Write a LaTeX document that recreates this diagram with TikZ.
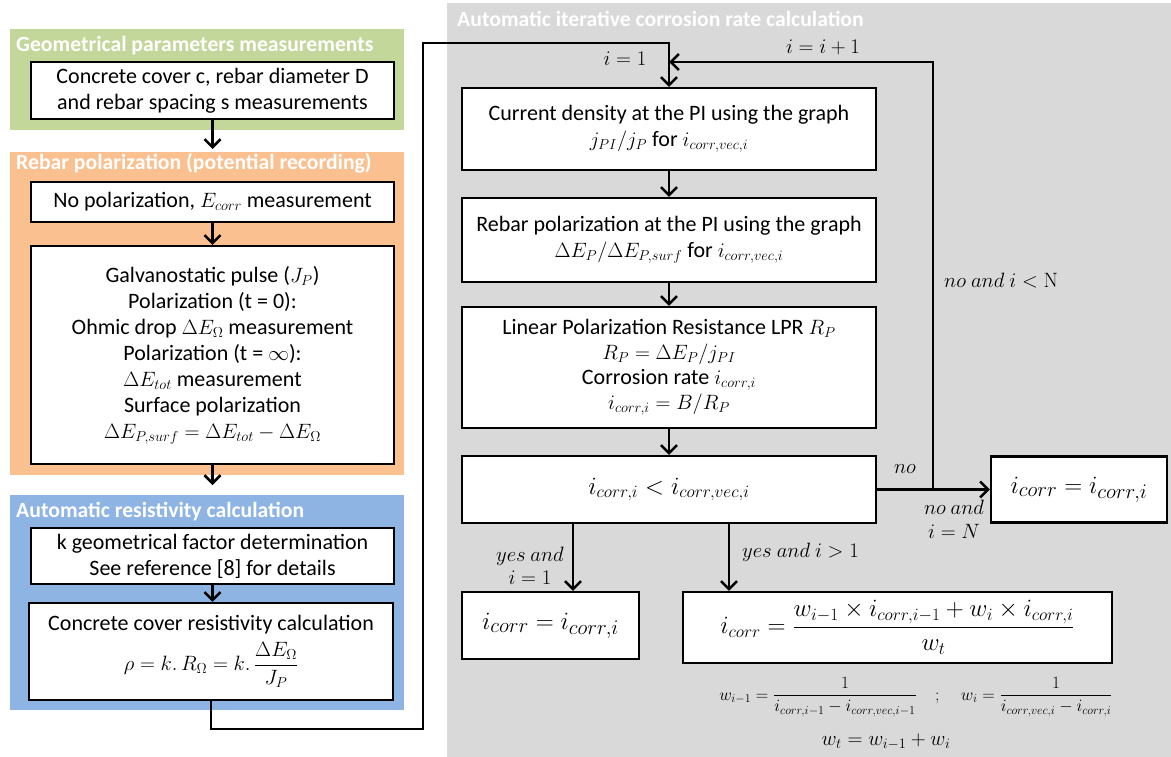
\documentclass[tikz,border=0pt]{standalone}
\usepackage{amsmath}
\usepackage[no-math]{fontspec}
\setmainfont{Carlito}
\usetikzlibrary{arrows.meta}
\definecolor{pgreen}{HTML}{C4D79B}
\definecolor{porange}{HTML}{FAC090}
\definecolor{pblue}{HTML}{8DB4E2}
\definecolor{pgray}{HTML}{D9D9D9}
\begin{document}
\begin{tikzpicture}[x=1pt,y=-1pt,
  box/.style={draw, line width=2.1pt, fill=white, align=center, inner sep=0pt, font=\fontsize{22}{26}\selectfont},
  arr/.style={line width=2.6pt, -{Straight Barb[length=8pt,width=16pt,line width=2.6pt]}},
  ptitle/.style={anchor=west, text=white, font=\bfseries\fontsize{21.7}{25}\selectfont, inner sep=0pt},
  lab/.style={font=\fontsize{22}{25}\selectfont, inner sep=0pt, align=center}]
\useasboundingbox (0,0) rectangle (1171,757);
\fill[white] (0,0) rectangle (1171,757);
% panels
\fill[pgreen] (10,29) rectangle (404,130);
\fill[porange] (10,152) rectangle (404,475);
\fill[pblue] (10,495) rectangle (404,710);
\fill[pgray] (447,3) rectangle (1171,757);
\node[ptitle] (tg) at (16,46) {Geometrical parameters measurements};
\node[ptitle] (to) at (16,163) {Rebar polarization (potential recording)};
\node[ptitle] (tb) at (16,512) {Automatic resistivity calculation};
\node[ptitle] (tr) at (457,19) {Automatic iterative corrosion rate calculation};
% left boxes
\node[box, minimum width=363, minimum height=57] (b1) at (212.5,90.5)
  {Concrete cover c, rebar diameter D\\and rebar spacing s measurements};
\node[box, minimum width=363, minimum height=40] (b2) at (212.5,202)
  {No polarization, $E_{corr}$ measurement};
\node[box, minimum width=363, minimum height=218, font=\fontsize{22}{26}\selectfont] (b3) at (212.5,355)
  {Galvanostatic pulse ($J_P$)\\Polarization (t = 0):\\Ohmic drop $\Delta E_\Omega$ measurement\\Polarization (t = $\infty$):\\$\Delta E_{tot}$ measurement\\Surface polarization\\$\Delta E_{P,surf}=\Delta E_{tot}-\Delta E_\Omega$};
\node[box, minimum width=363, minimum height=56] (b4) at (212.5,556)
  {k geometrical factor determination\\See reference [8] for details};
\node[box, minimum width=364, minimum height=97] (b5) at (211,651.5)
  {Concrete cover resistivity calculation\\[7pt]$\rho=k.\,R_\Omega=k.\,\dfrac{\Delta E_\Omega}{J_P}$};
% right boxes
\node[box, minimum width=414, minimum height=82] (b6) at (669,129)
  {Current density at the PI using the graph\\$j_{PI}/j_P$ for $i_{corr,vec,i}$};
\node[box, minimum width=414, minimum height=84] (b7) at (669,240)
  {Rebar polarization at the PI using the graph\\$\Delta E_P/\Delta E_{P,surf}$ for $i_{corr,vec,i}$};
\node[box, minimum width=414, minimum height=121, font=\fontsize{22}{25}\selectfont] (b8) at (669,367.5)
  {Linear Polarization Resistance LPR $R_P$\\$R_P=\Delta E_P/j_{PI}$\\Corrosion rate $i_{corr,i}$\\$i_{corr,i}=B/R_P$};
\node[box, minimum width=414, minimum height=67, font=\fontsize{24}{27}\selectfont] (b9) at (669,489.5)
  {$i_{corr,i}<i_{corr,vec,i}$};
\node[box, minimum width=176, minimum height=66, font=\fontsize{31}{33}\selectfont] (b10) at (1079,489.5)
  {$i_{corr}=i_{corr,i}$};
\node[box, minimum width=177, minimum height=67, font=\fontsize{31}{33}\selectfont] (b11) at (550.5,625.5)
  {$i_{corr}=i_{corr,i}$};
\node[box, minimum width=429, minimum height=71, font=\fontsize{26}{28}\selectfont] (b12) at (897.5,627.5)
  {$i_{corr}=\dfrac{w_{i-1}\times i_{corr,i-1}+w_i\times i_{corr,i}}{w_t}$};
\node[font=\fontsize{18.5}{21}\selectfont, inner sep=0pt] (wf) at (916,697)
  {$w_{i-1}=\dfrac{1}{i_{corr,i-1}-i_{corr,vec,i-1}}\quad;\quad w_i=\dfrac{1}{i_{corr,vec,i}-i_{corr,i}}$};
\node[font=\fontsize{19.5}{22}\selectfont, inner sep=0pt] (wt) at (886,742) {$w_t=w_{i-1}+w_i$};
% connectors left
\coordinate (c12) at (212.5,149);
\draw[arr] (b1.south) -- (c12);
\draw[arr] (b2.south) -- (b3.north);
\coordinate (c3) at (212.5,485);
\draw[arr] (b3.south) -- (c3);
\draw[arr] (b4.south) -- (b4.south |- b5.north);
\coordinate (lA) at (423,729);
\coordinate (lB) at (423,43);
\draw[arr] (b5.south) |- (lA) -- (lB) -| (b6.north);
% connectors right
\draw[arr] (b6.south) -- (b7.north);
\draw[arr] (b7.south) -- (b8.north);
\draw[arr] (b8.south) -- (b9.north);
\draw[arr] (b9.east) -- (b10.west);
\coordinate (jn) at (933,489.5);
\coordinate (jt) at (933,62);
\draw[arr] (jn) -- (jt) -- (jt -| b6.north);
\path (b9.south) ++(-96,0) coordinate (ya);
\path (b9.south) ++(60,0) coordinate (yb);
\draw[arr] (ya) -- (ya |- b11.north);
\draw[arr] (yb) -- (yb |- b12.north);
% labels
\node[lab] (l1) at (625,59) {$i=1$};
\node[lab] (l2) at (823,47) {$i=i+1$};
\node[lab, anchor=west] (l3) at (944,281) {$no\ and\ i<\mathrm{N}$};
\node[lab] (l4) at (905,469) {$no$};
\node[lab, font=\fontsize{21}{24}\selectfont] (l5) at (954,519) {$no\ and$\\$i=N$};
\node[lab, font=\fontsize{21}{23}\selectfont] (l6) at (530,566) {$yes\ and$\\$i=1$};
\node[lab, anchor=west] (l7) at (742,552) {$yes\ and\ i>1$};
\end{tikzpicture}
\end{document}
